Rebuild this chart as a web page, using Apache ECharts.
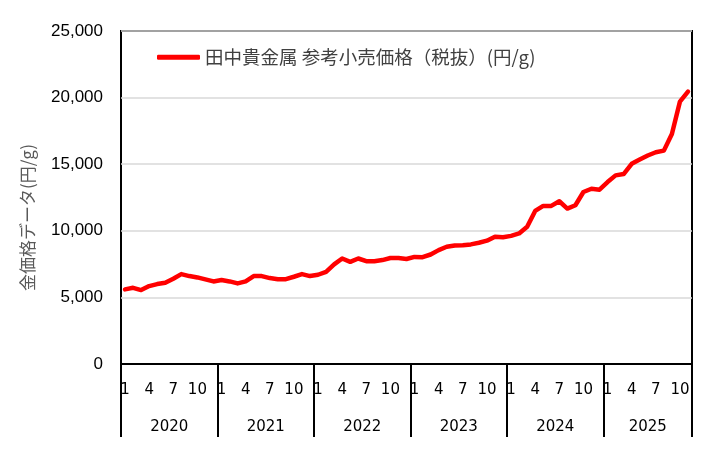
<!DOCTYPE html>
<html>
<head>
<meta charset="utf-8">
<script src="https://cdn.jsdelivr.net/npm/echarts@6/dist/echarts.min.js"></script>
<style>
html,body{margin:0;padding:0;background:#fff;}
#chart{width:719px;height:450px;}
</style>
</head>
<body>
<div id="chart"></div>
<script>
// ---- data ----
const years = ['2020', '2021', '2022', '2023', '2024', '2025'];
const monthsInYear = [12, 12, 12, 12, 12, 11];
const shownMonths = ['1', '4', '7', '10'];
const yTicks = [0, 5000, 10000, 15000, 20000, 25000];
const seriesName = '田中貴金属 参考小売価格（税抜）(円/g)';
const yAxisTitle = '金価格データ(円/g)';
const price2020 = [5600, 5720, 5550, 5850, 6000, 6100, 6400, 6750, 6600, 6500, 6350, 6200];
const price2021 = [6300, 6200, 6050, 6200, 6600, 6600, 6450, 6370, 6370, 6550, 6750, 6600];
const price2022 = [6700, 6920, 7480, 7920, 7670, 7920, 7720, 7720, 7800, 7960, 7960, 7880];
const price2023 = [8040, 8020, 8220, 8550, 8800, 8900, 8920, 8980, 9100, 9260, 9560, 9510];
const price2024 = [9620, 9800, 10300, 11490, 11870, 11870, 12220, 11670, 11920, 12910, 13160, 13090];
const price2025 = [13660, 14160, 14260, 15030, 15350, 15650, 15900, 16020, 17270, 19700, 20450];

// ---- derived ----
const prices = [].concat(price2020, price2021, price2022, price2023, price2024, price2025);
const categories = [];
const monthOf = [];
const yearMid = [];
const yearStart = [];
let start = 0;
years.forEach((y, k) => {
  yearStart.push(start);
  for (let m = 1; m <= monthsInYear[k]; m++) { categories.push(y + '-' + m); monthOf.push(String(m)); }
  yearMid.push(start + monthsInYear[k] / 2);
  start += monthsInYear[k];
});
const total = categories.length;

const chart = echarts.init(document.getElementById('chart'), null, {renderer: 'canvas'});
chart.setOption({
  animation: false,
  backgroundColor: '#ffffff',
  grid: {left: 121, right: 27, top: 31, bottom: 86, show: true, borderColor: '#000', borderWidth: 2, backgroundColor: 'transparent'},
  legend: {
    left: 157, top: 48, padding: 0,
    itemWidth: 43, itemHeight: 5, itemGap: 5,
    textStyle: {fontFamily: 'Noto Sans CJK JP', fontSize: 18.5, color: '#404040'},
    data: [{name: seriesName, icon: 'roundRect'}]
  },
  xAxis: [{
    type: 'category',
    data: categories,
    boundaryGap: true,
    axisLine: {show: true, lineStyle: {color: '#000', width: 2}},
    axisTick: {
      show: true,
      inside: false,
      interval: i => yearStart.indexOf(i) >= 0,
      length: 73,
      lineStyle: {color: '#000', width: 2}
    },
    axisLabel: {
      interval: i => shownMonths.indexOf(monthOf[i]) >= 0,
      formatter: v => v.split('-')[1],
      fontFamily: 'DejaVu Sans', fontSize: 15, color: '#000', margin: 19
    },
    splitLine: {show: false}
  }, {
    type: 'value',
    position: 'bottom',
    min: 0, max: total, interval: 0.5,
    axisLine: {show: false}, axisTick: {show: false}, splitLine: {show: false},
    axisLabel: {
      formatter: v => { const k = yearMid.indexOf(v); return k >= 0 ? years[k] : ''; },
      fontFamily: 'DejaVu Sans', fontSize: 15, color: '#000', margin: 56,
      showMinLabel: true, showMaxLabel: true
    }
  }],
  yAxis: {
    type: 'value',
    min: yTicks[0], max: yTicks[yTicks.length - 1], interval: yTicks[1] - yTicks[0],
    name: yAxisTitle,
    nameLocation: 'middle', nameRotate: 90, nameGap: 85,
    nameTextStyle: {fontFamily: 'Noto Sans CJK JP', fontSize: 17, color: '#595959', padding: [0, 40, 0, 0]},
    axisLine: {show: false}, axisTick: {show: false},
    axisLabel: {formatter: v => v.toLocaleString('en-US'), fontFamily: 'Liberation Sans', fontSize: 17, color: '#000', margin: 18},
    splitLine: {lineStyle: {color: '#D9D9D9', width: 1.5}}
  },
  series: [{
    name: seriesName,
    type: 'line',
    xAxisIndex: 0,
    data: prices,
    symbol: 'none',
    smooth: false,
    lineStyle: {color: '#FF0000', width: 4.5, cap: 'round', join: 'round'},
    itemStyle: {color: '#FF0000'}
  }]
});
</script>
</body>
</html>
